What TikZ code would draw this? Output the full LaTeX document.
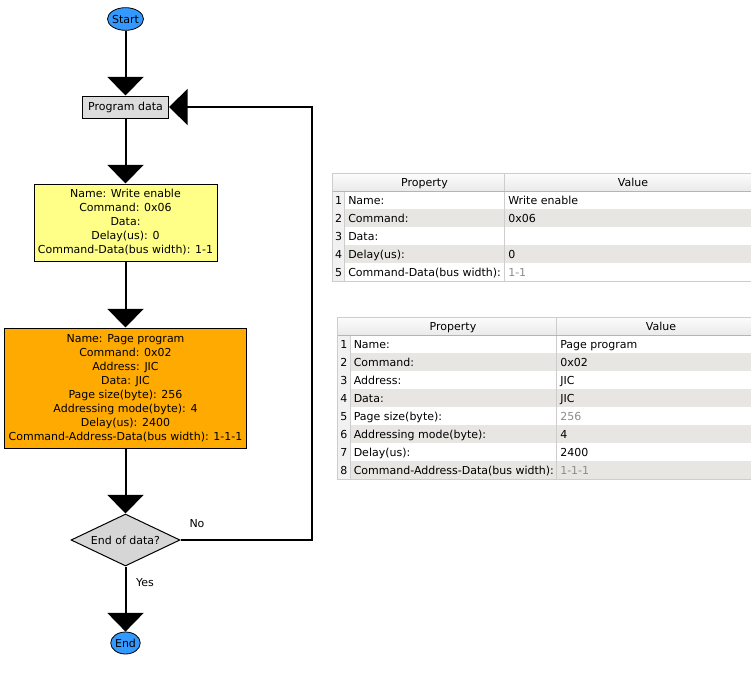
\documentclass[tikz,border=0pt]{standalone}
\usepackage{fontspec}
\setmainfont{DejaVu Sans}
\usetikzlibrary{shapes.geometric,arrows.meta}
\definecolor{startblue}{RGB}{51,153,255}
\definecolor{progfill}{RGB}{220,220,220}
\definecolor{weyellow}{RGB}{255,255,136}
\definecolor{pporange}{RGB}{255,170,0}
\definecolor{decgrey}{RGB}{214,214,214}
\definecolor{rowgrey}{RGB}{232,230,227}
\definecolor{numbg}{RGB}{241,241,241}
\definecolor{gridgrey}{RGB}{205,205,205}
\definecolor{hdrline}{RGB}{180,180,180}
\definecolor{greytext}{RGB}{140,140,140}
\definecolor{hdrtop}{RGB}{252,252,252}
\definecolor{hdrbot}{RGB}{234,234,234}
\tikzset{
  term/.style={ellipse, draw=black, line width=0.6pt, fill=startblue, inner xsep=-0.6pt, inner ysep=0pt},
  procbox/.style={rectangle, draw=black, line width=0.75pt, align=center},
  decbox/.style={diamond, draw=black, line width=0.75pt, fill=decgrey, aspect=2.1},
  conn/.style={line width=1.5pt, -{Triangle[length=14pt,width=27pt]}},
  loopline/.style={line width=1.5pt, -{Triangle[length=14pt,width=27pt]}},
  lbl/.style={anchor=base},
  cellp/.style={anchor=base west},
  celln/.style={anchor=base},
  gridline/.style={draw=gridgrey, line width=0.75pt},
}
\begin{document}
\begin{tikzpicture}[x=0.75pt,y=-0.75pt, every node/.style={font=\fontsize{8.25pt}{10.5pt}\selectfont, inner sep=0pt}]
\useasboundingbox (0,0) rectangle (751,679);

% ---------------- flowchart ----------------
\node[term, minimum width=27pt, minimum height=17pt] (start) at (125.5,19) {Start};
\node[procbox, fill=progfill, minimum width=64.5pt, minimum height=16.5pt] (prog) at (125.5,107) {Program data};
\node[procbox, fill=weyellow, minimum width=137.25pt, minimum height=57.75pt] (we) at (125.5,222.5)
  {Name: Write enable\\Command: 0x06\\Data:\\Delay(us): 0\\Command-Data(bus width): 1-1};
\node[procbox, fill=pporange, minimum width=181.5pt, minimum height=90pt] (pp) at (125.5,388)
  {Name: Page program\\Command: 0x02\\Address: JIC\\Data: JIC\\Page size(byte): 256\\Addressing mode(byte): 4\\Delay(us): 2400\\Command-Address-Data(bus width): 1-1-1};
\node[decbox, minimum width=81.75pt, minimum height=39pt] (dec) at (125.5,540) {End of data?};
\node[term, inner xsep=0pt, minimum width=21.75pt, minimum height=16.5pt] (end) at (125.5,643) {End};

\draw[conn] (start) -- (prog);
\draw[conn] (prog) -- (we);
\draw[conn] (we) -- (pp);
\draw[conn] (pp) -- (dec);
\draw[conn] (dec) -- (end);
\coordinate (loopc) at (312,107);
\draw[loopline] (dec.east) -| (loopc) -- (prog.east);

\node[lbl] (nolbl) at (197,527) {No};
\node[lbl] (yeslbl) at (145,586) {Yes};

% ---------------- table 1 ----------------
\fill[top color=hdrtop, bottom color=hdrbot] (332.5,173) rectangle (751,191);
\foreach \i/\p/\v/\c/\f in {1/Name:/Write enable/black/white, 2/Command:/0x06/black/rowgrey, 3/Data://black/white, 4/Delay(us):/0/black/rowgrey, 5/Command-Data(bus width):/1-1/greytext/white}{
  \fill[\f] (344.5,{173+18*\i}) rectangle (751,{191+18*\i});
  \fill[numbg] (332.5,{173+18*\i}) rectangle (344.5,{191+18*\i});
  \draw[gridline] (332.5,{191+18*\i}) -- (344.5,{191+18*\i});
  \node[celln] (t1n\i) at (338.5,{186+18*\i}) {\i};
  \node[cellp] (t1p\i) at (348,{186+18*\i}) {\p};
  \node[cellp, text=\c] (t1v\i) at (508,{186+18*\i}) {\v};
}
\draw[gridline] (751,173) -- (332.5,173) -- (332.5,281) -- (751,281);
\draw[gridline] (344.5,191) -- (344.5,281);
\draw[gridline] (504,173) -- (504,281);
\draw[draw=hdrline, line width=0.75pt] (332.5,191) -- (751,191);
\node[celln] (t1h1) at (424.5,186) {Property};
\node[celln] (t1h2) at (633,186) {Value};

% ---------------- table 2 ----------------
\fill[top color=hdrtop, bottom color=hdrbot] (337.5,317) rectangle (751,335);
\foreach \i/\p/\v/\c/\f in {1/Name:/Page program/black/white, 2/Command:/0x02/black/rowgrey, 3/Address:/JIC/black/white, 4/Data:/JIC/black/rowgrey, 5/Page size(byte):/256/greytext/white, 6/Addressing mode(byte):/4/black/rowgrey, 7/Delay(us):/2400/black/white, 8/Command-Address-Data(bus width):/1-1-1/greytext/rowgrey}{
  \fill[\f] (350,{317+18*\i}) rectangle (751,{335+18*\i});
  \fill[numbg] (337.5,{317+18*\i}) rectangle (350,{335+18*\i});
  \draw[gridline] (337.5,{335+18*\i}) -- (350,{335+18*\i});
  \node[celln] (t2n\i) at (343.75,{330+18*\i}) {\i};
  \node[cellp] (t2p\i) at (353.5,{330+18*\i}) {\p};
  \node[cellp, text=\c] (t2v\i) at (560,{330+18*\i}) {\v};
}
\draw[gridline] (751,317) -- (337.5,317) -- (337.5,479) -- (751,479);
\draw[gridline] (350,335) -- (350,479);
\draw[gridline] (556,317) -- (556,479);
\draw[draw=hdrline, line width=0.75pt] (337.5,335) -- (751,335);
\node[celln] (t2h1) at (453,330) {Property};
\node[celln] (t2h2) at (661,330) {Value};
\end{tikzpicture}
\end{document}
